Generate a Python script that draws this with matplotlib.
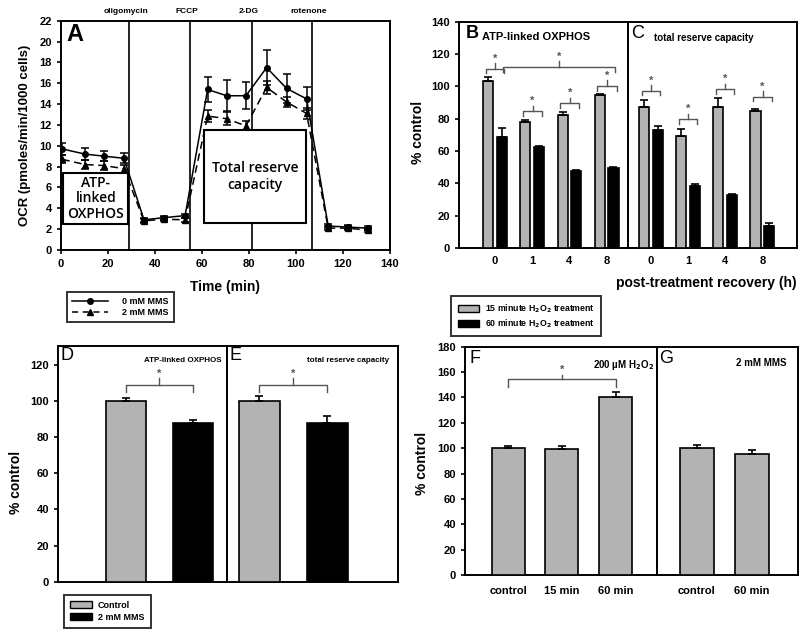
import matplotlib
matplotlib.use("Agg")
import matplotlib.pyplot as plt
import matplotlib.transforms as mtransforms
from matplotlib.patches import Rectangle, Patch
from matplotlib.lines import Line2D

plt.rcParams["font.family"] = ["Liberation Sans", "DejaVu Sans"]
plt.rcParams["font.weight"] = "bold"
plt.rcParams["axes.labelweight"] = "bold"

GRAY = "#b3b3b3"
BRACKET = "#555555"

# Panel A: OCR trace
TIME = [0.5, 10.2, 18.4, 26.8, 35.3, 43.8, 52.8, 62.4, 70.5, 78.7, 87.5, 96.0, 104.5, 113.7, 122.0, 130.6]
OCR_0MM = [9.7, 9.2, 9.0, 8.8, 2.9, 3.1, 3.3, 15.4, 14.8, 14.8, 17.5, 15.5, 14.5, 2.3, 2.2, 2.1]
OCR_0MM_ERR = [0.6, 0.6, 0.5, 0.5, 0.2, 0.2, 0.2, 1.2, 1.5, 1.3, 1.7, 1.4, 1.1, 0.2, 0.2, 0.2]
OCR_2MM = [8.7, 8.2, 8.1, 7.8, 2.8, 2.95, 2.9, 12.85, 12.6, 11.9, 15.6, 14.2, 13.1, 2.1, 2.1, 1.9]
OCR_2MM_ERR = [0.4, 0.4, 0.4, 0.4, 0.2, 0.2, 0.2, 0.6, 0.6, 0.5, 0.6, 0.5, 0.5, 0.2, 0.2, 0.2]
INJECTIONS = ["oligomycin", "FCCP", "2-DG", "rotenone"]
INJECTION_TIMES = [28.8, 54.9, 81.1, 106.7]

# Panels B/C: H2O2 recovery
RECOVERY_H = ["0", "1", "4", "8"]
ATP_15 = [103.4, 78.2, 82.4, 94.7]
ATP_15_ERR = [2.6, 1.0, 1.5, 0.6]
ATP_60 = [68.5, 62.5, 47.5, 49.5]
ATP_60_ERR = [5.5, 0.5, 1.0, 0.5]
RES_15 = [87.5, 69.4, 87.5, 84.8]
RES_15_ERR = [4.0, 4.5, 5.0, 1.5]
RES_60 = [73.0, 38.5, 32.5, 13.8]
RES_60_ERR = [2.5, 1.3, 0.7, 1.6]

# Panels D/E: MMS
MMS_GROUPS = ["Control", "2 mM MMS"]
MMS_ATP = [100.0, 88.0]
MMS_ATP_ERR = [1.8, 1.7]
MMS_RES = [100.0, 88.0]
MMS_RES_ERR = [3.0, 3.5]

# Panels F/G
F_LABELS = ["control", "15 min", "60 min"]
F_VALUES = [100.0, 99.0, 140.0]
F_ERR = [1.5, 3.0, 4.0]
G_LABELS = ["control", "60 min"]
G_VALUES = [100.0, 95.5]
G_ERR = [2.5, 3.0]

W, H = 800, 636
TICK_SIZE = 8


def rect(left, top, right, bottom):
    return [left / W, 1 - bottom / H, (right - left) / W, (bottom - top) / H]


def style_axes(ax):
    for s in ax.spines.values():
        s.set_linewidth(1.4)
    ax.tick_params(direction="out", length=3, width=1.2, labelsize=TICK_SIZE)


def bracket(ax, x1, x2, y, drop, rise):
    xm = (x1 + x2) / 2
    ax.plot([x1, x1, x2, x2], [y - drop, y, y, y - drop], color=BRACKET, lw=1, zorder=5)
    ax.plot([xm, xm], [y, y + rise], color=BRACKET, lw=1, zorder=5)
    ax.text(xm, y + rise * 0.9, "*", ha="center", va="bottom", fontsize=8, color=BRACKET)


def bars(ax, x, vals, errs, color, width):
    ax.bar(x, vals, width=width, color=color, edgecolor="black", linewidth=1.2, zorder=3)
    ax.errorbar(x, vals, yerr=[[0] * len(errs), errs], fmt="none", ecolor="black",
                elinewidth=1.2, capsize=3, capthick=1.2, zorder=4)


fig = plt.figure(figsize=(8, 6.36), dpi=100)

# ---------------- Panel A ----------------
axA = fig.add_axes(rect(61, 20.7, 390, 250))
style_axes(axA)
axA.errorbar(TIME, OCR_0MM, yerr=OCR_0MM_ERR, color="black", marker="o", markersize=4,
             lw=1.1, capsize=3, elinewidth=1.1, capthick=1.1, zorder=3)
axA.errorbar(TIME, OCR_2MM, yerr=OCR_2MM_ERR, color="black", marker="^", markersize=4.5,
             lw=1.1, ls=(0, (5, 3)), capsize=3, elinewidth=1.1, capthick=1.1, zorder=3)
trans = mtransforms.blended_transform_factory(axA.transData, axA.transAxes)
for name, t in zip(INJECTIONS, INJECTION_TIMES):
    axA.axvline(t, color="black", lw=1.2, zorder=2)
    axA.text(t - 1.3, 1.04, name, transform=trans, ha="center", va="center", fontsize=6)
axA.add_patch(Rectangle((1, 2.5), 27.7, 4.85, facecolor="white", edgecolor="black", lw=1.5, zorder=4))
axA.text(14.85, 4.95, "ATP-\nlinked\nOXPHOS", ha="center", va="center", fontsize=10,
         family=["Open Sans", "DejaVu Sans"], fontweight="semibold", linespacing=1.1, zorder=5)
axA.add_patch(Rectangle((60.8, 2.6), 43.5, 8.9, facecolor="white", edgecolor="black", lw=1.5, zorder=4))
axA.text(82.5, 7.05, "Total reserve\ncapacity", ha="center", va="center", fontsize=10,
         family=["Open Sans", "DejaVu Sans"], fontweight="semibold", linespacing=1.3, zorder=5)
axA.set_xlim(0, 140)
axA.set_ylim(0, 22)
axA.set_xticks(range(0, 141, 20))
axA.set_yticks(range(0, 23, 2))
axA.text(0.015, 0.99, "A", transform=axA.transAxes, ha="left", va="top", fontsize=17)
fig.text(25 / W, 1 - 135 / H, "OCR (pmoles/min/1000 cells)", rotation=90, ha="center",
         va="center", fontsize=9.5)
fig.text(225 / W, 1 - 287 / H, "Time (min)", ha="center", va="center", fontsize=10)
handles_a = [
    Line2D([], [], color="black", marker="o", markersize=4, lw=1.1),
    Line2D([], [], color="black", marker="^", markersize=4, lw=1.1, ls=(0, (4, 3))),
]
legA = fig.legend(handles_a, ["0 mM MMS", "2 mM MMS"], loc="upper left",
                  bbox_to_anchor=(62 / W, 1 - 287 / H), fontsize=6.5, frameon=True,
                  fancybox=False, edgecolor="black", handlelength=4, borderpad=0.6,
                  labelspacing=0.2, handletextpad=1.5)
legA.get_frame().set_linewidth(1.4)

# ---------------- Panels B & C ----------------
axB = fig.add_axes(rect(459, 21.7, 628, 248))
axC = fig.add_axes(rect(628, 21.7, 797, 248))
off, bw = 0.185, 0.27
for ax, g, ge, b, be in [(axB, ATP_15, ATP_15_ERR, ATP_60, ATP_60_ERR),
                         (axC, RES_15, RES_15_ERR, RES_60, RES_60_ERR)]:
    style_axes(ax)
    x = list(range(len(RECOVERY_H)))
    bars(ax, [i - off for i in x], g, ge, GRAY, bw)
    bars(ax, [i + off for i in x], b, be, "black", bw)
    ax.set_ylim(0, 140)
    ax.set_xticks(x)
    ax.set_xticklabels(RECOVERY_H, fontsize=TICK_SIZE)
    ax.tick_params(axis="x", length=0, pad=6)
axB.set_xlim(-0.968, 3.575)
axC.set_xlim(-0.61, 3.93)
axB.set_yticks(range(0, 141, 20))
axC.tick_params(axis="y", left=False, labelleft=False)
bracket(axB, -0.24, 0.24, 111, 3, 3.5)
bracket(axB, 0.22, 3.23, 112, 3, 3.5)
bracket(axB, 0.75, 1.27, 84.5, 3, 3.5)
bracket(axB, 1.75, 2.27, 89.5, 3, 3.5)
bracket(axB, 2.75, 3.27, 100.3, 3, 3.5)
bracket(axC, -0.24, 0.25, 97.4, 3, 3.5)
bracket(axC, 0.76, 1.25, 79.7, 3, 3.5)
bracket(axC, 1.76, 2.25, 98.2, 3, 3.5)
bracket(axC, 2.76, 3.25, 93.7, 3, 3.5)
axB.text(0.04, 0.985, "B", transform=axB.transAxes, ha="left", va="top", fontsize=13)
axB.text(0.135, 0.955, "ATP-linked OXPHOS", transform=axB.transAxes, ha="left", va="top", fontsize=8)
axC.text(0.02, 0.985, "C", transform=axC.transAxes, ha="left", va="top", fontsize=13,
         fontweight="normal")
axC.text(0.155, 0.95, "total reserve capacity", transform=axC.transAxes, ha="left", va="top",
         fontsize=7)
fig.text(418 / W, 1 - 132 / H, "% control", rotation=90, ha="center", va="center", fontsize=10)
fig.text(797 / W, 1 - 283 / H, "post-treatment recovery (h)", ha="right", va="center", fontsize=10)
handles_b = [Patch(facecolor=GRAY, edgecolor="black", lw=1), Patch(facecolor="black", edgecolor="black")]
legB = fig.legend(handles_b, ["15 minute H$_2$O$_2$ treatment", "60 minute H$_2$O$_2$ treatment"],
                  loc="upper left", bbox_to_anchor=(447 / W, 1 - 292 / H), fontsize=6.3,
                  frameon=True, fancybox=False, edgecolor="black", handlelength=2.5,
                  handleheight=0.9, borderpad=0.7, labelspacing=0.3, handletextpad=0.6)
legB.get_frame().set_linewidth(1.4)

# ---------------- Panels D & E ----------------
axD = fig.add_axes(rect(58, 346, 226.7, 581.7))
axE = fig.add_axes(rect(226.7, 346, 398, 581.7))
for ax, vals, errs in [(axD, MMS_ATP, MMS_ATP_ERR), (axE, MMS_RES, MMS_RES_ERR)]:
    style_axes(ax)
    bars(ax, [0], vals[:1], errs[:1], GRAY, 0.6)
    bars(ax, [1], vals[1:], errs[1:], "black", 0.6)
    ax.set_ylim(0, 130.5)
    ax.set_xticks([])
    bracket(ax, 0, 1, 109, 3.8, 3.6)
axD.set_xlim(-1.018, 1.513)
axE.set_xlim(-0.48, 2.044)
axD.set_yticks(range(0, 121, 20))
axE.tick_params(axis="y", left=False, labelleft=False)
axD.text(0.015, 0.995, "D", transform=axD.transAxes, ha="left", va="top", fontsize=13,
         fontweight="normal")
axD.text(0.97, 0.955, "ATP-linked OXPHOS", transform=axD.transAxes, ha="right", va="top", fontsize=5.8)
axE.text(0.015, 0.995, "E", transform=axE.transAxes, ha="left", va="top", fontsize=13,
         fontweight="normal")
axE.text(0.95, 0.955, "total reserve capacity", transform=axE.transAxes, ha="right", va="top",
         fontsize=5.8)
fig.text(16 / W, 1 - 482 / H, "% control", rotation=90, ha="center", va="center", fontsize=10)
handles_d = [Patch(facecolor=GRAY, edgecolor="black", lw=1), Patch(facecolor="black", edgecolor="black")]
legD = fig.legend(handles_d, MMS_GROUPS, loc="upper left", bbox_to_anchor=(59 / W, 1 - 590 / H),
                  fontsize=6.5, frameon=True, fancybox=False, edgecolor="black",
                  handlelength=2.5, handleheight=0.9, borderpad=0.7, labelspacing=0.3,
                  handletextpad=0.6)
legD.get_frame().set_linewidth(1.4)

# ---------------- Panels F & G ----------------
axF = fig.add_axes(rect(465, 346.7, 656.7, 575))
axG = fig.add_axes(rect(656.7, 346.7, 798, 575))
for ax, labels, vals, errs in [(axF, F_LABELS, F_VALUES, F_ERR), (axG, G_LABELS, G_VALUES, G_ERR)]:
    style_axes(ax)
    x = list(range(len(labels)))
    bars(ax, x, vals, errs, GRAY, 0.615)
    ax.set_ylim(0, 180)
    ax.set_xticks(x)
    ax.set_xticklabels(labels, fontsize=TICK_SIZE)
    ax.tick_params(axis="x", length=0, pad=8)
axF.set_xlim(-0.803, 2.765)
axG.set_xlim(-0.726, 1.843)
axF.set_yticks(range(0, 181, 20))
axG.tick_params(axis="y", left=False, labelleft=False)
bracket(axF, 0, 2, 154.5, 6.5, 3.5)
axF.text(0.025, 0.985, "F", transform=axF.transAxes, ha="left", va="top", fontsize=13,
         fontweight="normal")
axF.text(0.985, 0.95, "200 \u00b5M H$_2$O$_2$", transform=axF.transAxes, ha="right", va="top",
         fontsize=7)
axG.text(0.015, 0.985, "G", transform=axG.transAxes, ha="left", va="top", fontsize=13,
         fontweight="normal")
axG.text(0.92, 0.95, "2 mM MMS", transform=axG.transAxes, ha="right", va="top", fontsize=7)
fig.text(422 / W, 1 - 463 / H, "% control", rotation=90, ha="center", va="center", fontsize=10)

fig.savefig("out.png", dpi=100, facecolor="white")
